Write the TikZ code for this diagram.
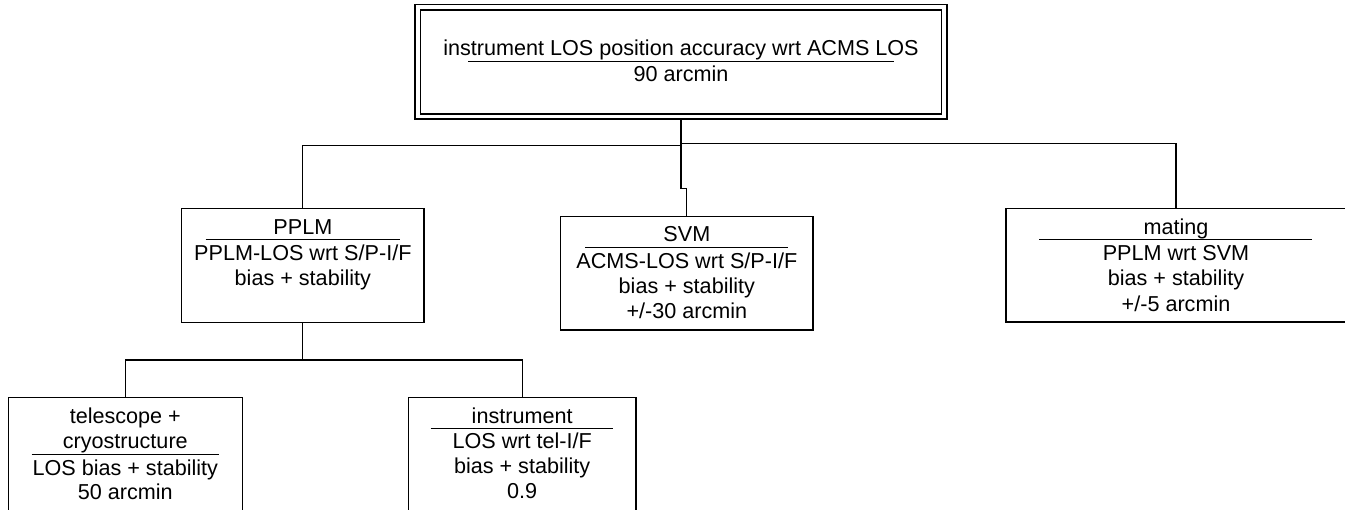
\documentclass[tikz,border=0pt]{standalone}
\usepackage{fontspec}
\setmainfont{Liberation Sans}
\begin{document}
\begin{tikzpicture}[x=0.75pt,y=-0.75pt,
  wire/.style={draw=black, line width=0.8pt},
  boxnode/.style={draw=black, line width=0.8pt, rectangle, inner sep=0pt, outer sep=0pt},
  lbl/.style={anchor=base, inner sep=0pt, outer sep=0pt, font=\fontsize{16.2}{18}\selectfont}]
\useasboundingbox (0,0) rectangle (1345,510);

% boxes
\node[boxnode, minimum width=532*0.75pt, minimum height=114.3*0.75pt] (top) at (681,61.85) {};
\node[boxnode, minimum width=520.6*0.75pt, minimum height=104*0.75pt] (topin) at (681,62) {};
\node[boxnode, minimum width=242.3*0.75pt, minimum height=114*0.75pt] (pplm) at (302.85,265.7) {};
\node[boxnode, minimum width=252.3*0.75pt, minimum height=113.3*0.75pt] (svm) at (686.85,273.35) {};
\node[boxnode, minimum width=340*0.75pt, minimum height=113.3*0.75pt] (mating) at (1176,265.35) {};
\node[boxnode, minimum width=234*0.75pt, minimum height=114*0.75pt] (tele) at (125.3,454.7) {};
\node[boxnode, minimum width=227.7*0.75pt, minimum height=114*0.75pt] (instr) at (522.15,454.7) {};

% junction points of the tree lines
\coordinate (busL) at (681,145.7);
\coordinate (busR) at (681,143.3);
\coordinate (jogA) at (681,188.3);
\coordinate (jogB) at (686.85,188.3);
\coordinate (busB) at (302.85,360);

% connectors
\draw[wire] (top.south) -- (busL) -| (pplm.north);
\draw[wire] (busR) -| (mating.north);
\draw[wire] (busL) -- (jogA) -- (jogB) -- (svm.north);
\draw[wire] (pplm.south) -- (busB) -| (tele.north);
\draw[wire] (busB) -| (instr.north);

% top box text
\node[lbl] (ta) at (681,56) {instrument LOS position accuracy wrt ACMS LOS};
\draw[wire] (468,61.7) -- (894,61.7);
\node[lbl] (tb) at (681,81) {90 arcmin};

% PPLM
\node[lbl] (pa) at (302.85,234) {PPLM};
\draw[wire] (205.7,239.3) -- (400,239.3);
\node[lbl] (pb) at (302.85,260) {PPLM-LOS wrt S/P-I/F};
\node[lbl] (pc) at (302.85,285.5) {bias + stability};

% SVM
\node[lbl] (sa) at (686.85,241.7) {SVM};
\draw[wire] (585,247.7) -- (788,247.7);
\node[lbl] (sb) at (686.85,268.3) {ACMS-LOS wrt S/P-I/F};
\node[lbl] (sc) at (686.85,293.3) {bias + stability};
\node[lbl] (sd) at (686.85,318.3) {+/-30 arcmin};

% mating
\node[lbl] (ma) at (1176,234) {mating};
\draw[wire] (1039,239.3) -- (1312,239.3);
\node[lbl] (mb) at (1176,260) {PPLM wrt SVM};
\node[lbl] (mc) at (1176,285.5) {bias + stability};
\node[lbl] (md) at (1176,311) {+/-5 arcmin};

% telescope + cryostructure
\node[lbl] (ea) at (125.3,423.7) {telescope +};
\node[lbl] (eb) at (125.3,448.7) {cryostructure};
\draw[wire] (31.7,454.7) -- (219.3,454.7);
\node[lbl] (ec) at (125.3,475.3) {LOS bias + stability};
\node[lbl] (ed) at (125.3,499.7) {50 arcmin};

% instrument
\node[lbl] (ia) at (522.15,423.7) {instrument};
\draw[wire] (430.7,428.7) -- (613.3,428.7);
\node[lbl] (ib) at (522.15,448.7) {LOS wrt tel-I/F};
\node[lbl] (ic) at (522.15,473.7) {bias + stability};
\node[lbl] (id) at (522.15,498.7) {0.9};
\end{tikzpicture}
\end{document}
